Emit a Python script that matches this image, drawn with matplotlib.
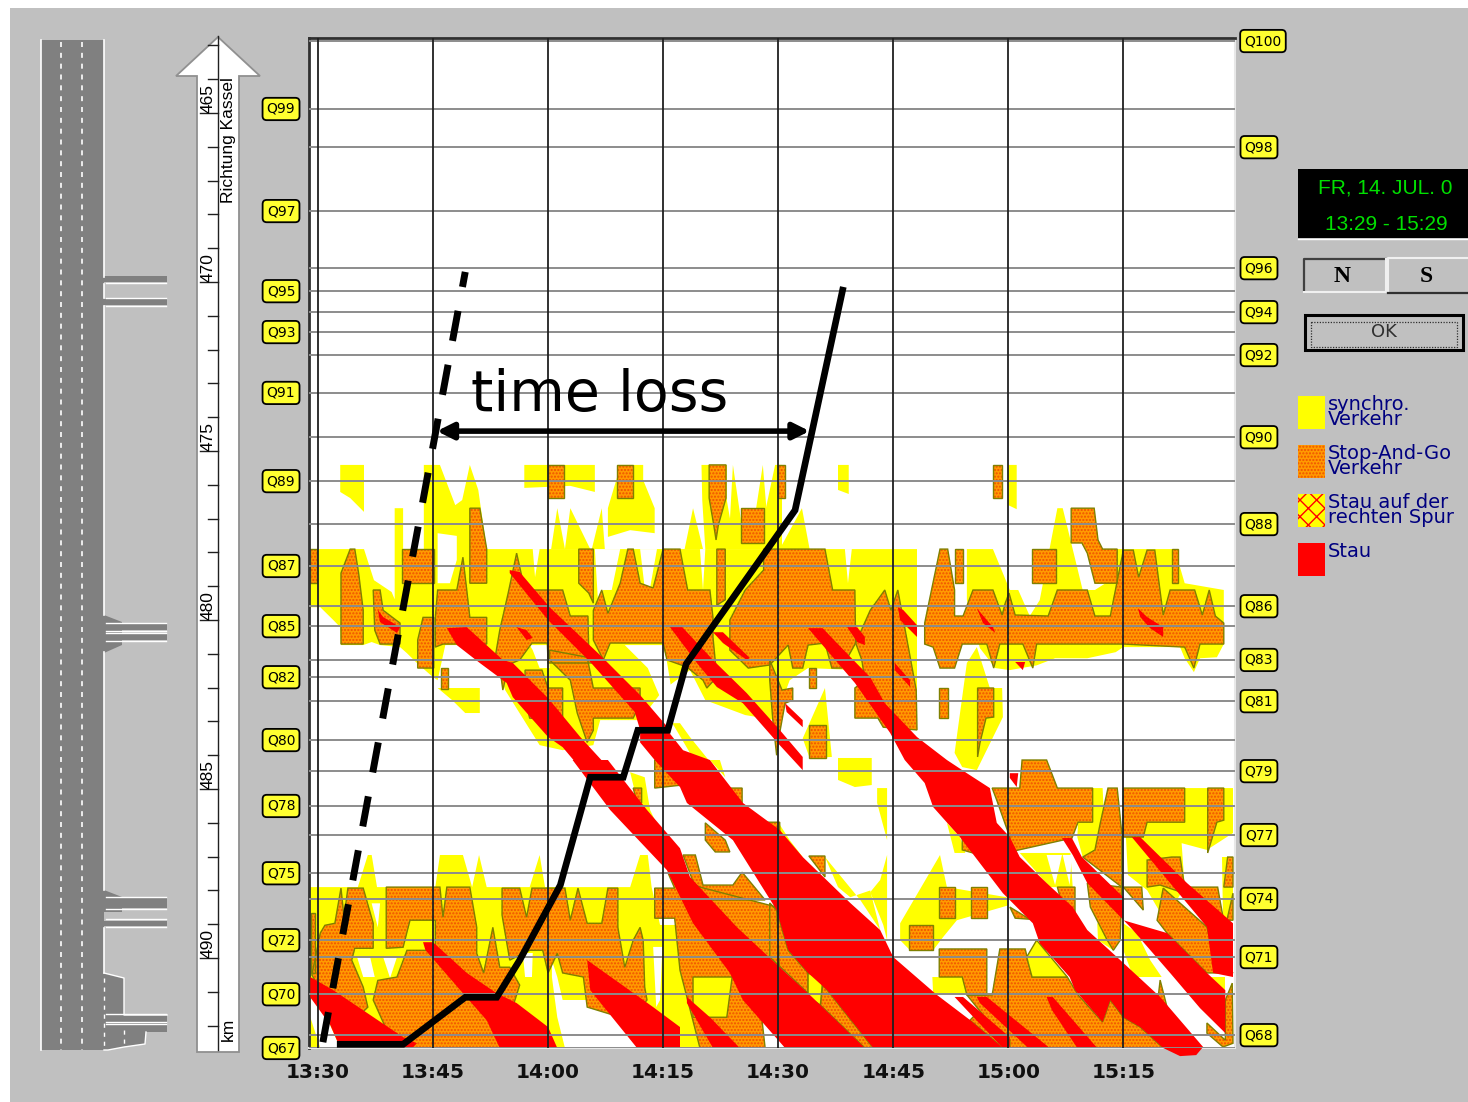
import matplotlib
matplotlib.use("Agg")
import matplotlib.pyplot as plt
from matplotlib.patches import Polygon, Rectangle

W, H = 1468, 1102

# minutes after 13:30, km
time_ticks = [0, 15, 30, 45, 60, 75, 90, 105]
time_labels = ['13:30', '13:45', '14:00', '14:15', '14:30', '14:45', '15:00', '15:15']
t_min, t_max = -1.17, 119.56
km_top, km_bottom = 462.78, 492.66

# detector positions
q_left = ['Q99', 'Q97', 'Q95', 'Q93', 'Q91', 'Q89', 'Q87', 'Q85', 'Q82', 'Q80', 'Q78', 'Q75', 'Q72', 'Q70', 'Q67']
q_left_km = [464.88, 467.90, 470.27, 471.48, 473.28, 475.89, 478.40, 480.18, 481.69, 483.55, 485.50, 487.49, 489.47, 491.07, 492.66]
q_right = ['Q100', 'Q98', 'Q96', 'Q94', 'Q92', 'Q90', 'Q88', 'Q86', 'Q83', 'Q81', 'Q79', 'Q77', 'Q74', 'Q71', 'Q68']
q_right_km = [462.87, 466.01, 469.59, 470.89, 472.16, 474.59, 477.16, 479.59, 481.18, 482.40, 484.47, 486.36, 488.25, 489.97, 492.28]

km_ticks = list(range(463, 493))
km_labels = [465, 470, 475, 480, 485, 490]

# synchronised traffic
synchro = [
    [(2.9,475.41),(6.0,475.41),(6.0,476.80),(4.2,476.39),(2.9,476.21)],
    [(-1.2,477.9),(6.0,477.9),(7.3,478.82),(9.6,479.17),(10.7,479.76),(10.0,479.41),(10.0,476.69),(11.1,476.69),(11.1,477.9),
     (13.8,477.9),(13.8,475.41),(15.9,475.41),(17.9,476.6),(18.8,476.45),(19.8,475.41),(20.9,476.15),(22.0,477.9),(78.1,477.9),
     (78.1,482.37),(70.3,482.37),(70.3,481.48),(63.9,481.42),(61.5,481.78),(59.6,482.96),(55.7,482.81),(50.5,482.37),(48.5,481.48),
     (45.0,482.07),(42.0,482.96),(36.8,482.96),(35.9,483.7),(31.9,483.85),(28.9,483.7),(24.4,482.07),(23.1,481.18),(21.1,480.74),
     (16.6,480.74),(15.6,481.78),(15.0,481.69),(12.9,481.27),(11.6,480.98),(10.7,480.8),(8.1,480.74),(7.0,480.65),(5.9,480.74),
     (3.0,480.74),(2.9,480.21),(2.0,480.0),(0.3,479.62),(-1.2,479.62)],
    [(31.2,476.69),(30.4,477.9),(32.2,477.9)],
    [(32.9,476.69),(32.2,477.9),(35.5,477.9)],
    [(37.0,476.69),(35.7,477.9),(37.4,477.9)],
    [(48.9,476.69),(47.8,477.9),(50.2,477.9)],
    [(54.1,475.41),(53.5,477.9),(55.7,477.9)],
    [(58.0,475.41),(56.3,477.9),(58.9,477.9)],
    [(63.1,476.69),(60.2,477.9),(64.1,477.9)],
    [(26.9,475.41),(36.1,475.41),(36.1,476.21),(32.9,476.03),(26.9,476.09)],
    [(39.0,475.41),(42.4,475.41),(42.4,475.86),(43.9,476.69),(43.9,477.43),(40.7,477.34),(37.8,477.54),(37.8,476.69),(39.0,475.77)],
    [(50.0,475.41),(53.3,475.41),(53.3,476.45),(54.4,477.9),(50.5,477.9),(50.1,476.45)],
    [(55.2,476.69),(58.4,476.69),(59.6,475.41),(60.5,475.41),(60.5,477.9),(55.2,477.9)],
    [(15.6,482.01),(21.1,482.01),(21.1,482.75),(19.2,482.75),(17.5,482.37)],
    [(46.2,483.05),(47.2,483.05),(48.5,483.46),(52.0,484.44),(49.8,484.44),(47.9,483.7)],
    [(85.9,480.8),(84.6,481.27),(83.0,483.93),(84.0,484.35),(85.9,484.44),(89.3,482.87),(89.2,482.01),(87.6,482.01)],
    [(66.1,482.01),(67.0,484.05),(64.1,484.08),(63.2,483.5)],
    [(67.8,484.08),(72.2,484.08),(72.2,484.88),(70.0,484.94),(67.8,484.73)],
    [(72.9,484.97),(74.2,484.97),(74.2,486.51),(72.9,485.41)],
    [(74.2,486.95),(74.2,489.47),(73.7,489.02),(72.0,488.05),(73.3,487.69)],
    [(66.1,487.01),(67.8,487.9),(69.4,488.2),(72.0,488.0),(73.3,489.17),(70.7,488.28)],
    [(75.9,488.97),(81.1,486.95),(82.0,487.9),(89.8,488.2),(90.0,488.44),(83.3,488.88),(81.5,489.38),(80.2,489.77),(77.2,489.77),(75.9,489.47)],
    [(80.1,490.56),(84.0,490.56),(84.6,491.04),(80.2,491.04)],
    [(91.5,486.89),(98.1,486.89),(98.4,487.9),(95.4,487.9)],
    [(105.0,484.97),(119.3,484.97),(119.3,486.3),(115.9,486.8),(112.6,486.6),(113.0,487.9),(110.4,488.88),(108.1,487.99),(105.6,487.54)],
    [(101.0,484.97),(102.3,484.97),(102.6,486.42),(101.3,486.89),(99.7,487.01),(99.0,486.42),(99.1,485.98),(101.0,485.98)],
    [(117.9,487.01),(119.3,487.01),(119.3,488.88),(118.0,488.88)],
    [(101.6,488.97),(102.9,488.97),(103.7,489.77),(101.7,489.47)],
    [(105.0,488.97),(106.8,489.26),(108.5,490.06),(110.0,490.56),(106.3,490.56),(105.0,489.77)],
    [(115.9,490.56),(118.3,490.56),(118.3,490.95)],
    [(58.9,485.98),(60.0,485.98),(61.5,486.51),(63.2,487.01),(61.5,487.01)],
    [(90.0,475.41),(91.1,475.41),(91.1,476.72),(90.0,476.6)],
    [(67.8,475.41),(69.2,475.41),(69.2,476.27),(67.8,476.15)],
    [(82.0,486.0),(83.7,486.42),(84.4,486.89),(83.0,486.89)],
    [(40.7,484.5),(42.6,484.65),(43.3,485.62),(45.5,486.66),(44.5,486.51),(41.9,485.62)],
    [(51.1,484.14),(52.4,484.14),(53.1,484.65)],
    [(84.6,479.41),(84.6,477.9),(88.0,477.9),(90.2,479.11),(91.3,479.11),(92.8,479.88),(94.1,479.41),(96.4,476.69),(97.1,476.69),
     (99.7,479.11),(101.3,479.11),(103.3,478.82),(104.2,477.9),(111.7,477.9),(113.0,478.91),(118.1,479.11),(118.1,480.71),
     (117.2,481.1),(115.0,481.13),(114.2,481.54),(113.0,481.13),(112.4,480.8),(105.0,480.8),(104.0,480.95),(100.3,481.13),
     (96.1,481.13),(93.7,481.34),(90.2,481.48),(88.3,481.42),(86.3,480.83)],
    [(-1.2,487.9),(5.2,487.9),(6.5,486.95),(7.0,486.95),(7.7,487.9),(15.3,487.9),(15.9,486.95),(18.9,486.95),(20.1,487.9),
     (21.0,486.95),(22.0,487.9),(27.6,487.9),(28.9,486.95),(29.6,487.9),(40.7,487.9),(42.0,486.95),(43.0,486.95),(43.5,487.9),
     (44.6,489.02),(47.2,489.02),(50.5,490.06),(54.4,490.66),(55.7,491.54),(57.6,492.66),(-1.2,492.66)],
]

# gaps left free inside the yellow areas
free_flow = [
    [(15.6,477.43),(18.1,477.51),(18.1,478.22),(17.2,478.91),(15.6,478.91)],
    [(28.0,477.9),(28.9,477.9),(28.3,478.73)],
    [(36.1,477.9),(39.4,477.9),(38.3,479.11),(37.2,479.11),(36.5,479.41)],
    [(42.0,477.9),(44.2,477.9),(43.3,479.05),(42.6,479.05)],
    [(49.8,477.9),(50.5,477.9),(50.2,479.11)],
    [(68.7,477.9),(69.6,477.9),(69.1,478.91)],
    [(40.0,480.74),(45.0,480.74),(45.5,481.24),(46.1,482.07),(44.6,482.28),(43.0,481.42)],
    [(27.6,480.74),(30.0,480.74),(30.2,481.42),(28.9,481.42),(28.0,480.89)],
    [(30.5,490.06),(31.2,490.56),(31.9,491.24),(35.9,491.24),(39.4,491.63),(41.1,492.04),(42.9,492.66),(32.2,492.66),(31.2,491.75),(30.5,490.56)],
    [(5.1,489.97),(6.8,489.97),(7.4,490.56),(5.9,490.56)],
    [(8.5,489.97),(10.3,489.97),(9.4,490.59)],
    [(7.0,488.38),(8.1,488.38),(7.8,489.09)],
    [(26.7,489.85),(28.0,489.85),(27.9,490.56),(27.0,490.56)],
    [(43.7,489.67),(44.9,489.67),(44.6,491.24),(44.1,491.45)],
    [(-1.0,491.16),(0.9,491.63),(2.9,492.66),(0.3,492.66),(-1.0,491.75)],
    [(95.0,486.95),(97.0,486.95),(96.1,487.84)],
    [(97.1,486.95),(98.3,486.95),(98.0,487.84)],
]

# stop and go
stop_go = [
    [(-1.0,477.9),(-0.1,477.9),(-0.1,478.91),(-1.0,478.91)],
    [(3.0,478.61),(4.2,477.9),(4.8,477.9),(5.3,478.61),(5.9,479.71),(5.9,480.71),(3.0,480.71)],
    [(7.2,479.11),(8.1,479.11),(8.5,479.71),(10.7,480.09),(10.7,480.71),(8.1,480.71),(7.4,480.3)],
    [(11.0,477.9),(15.1,477.9),(15.1,478.91),(11.0,478.91)],
    [(13.7,479.92),(15.1,479.92),(15.1,481.42),(13.0,481.42),(13.0,480.59)],
    [(15.6,479.11),(18.1,479.11),(18.9,478.14),(19.4,479.11),(19.8,479.92),(22.0,479.92),(22.0,480.71),(16.3,480.71),(15.3,480.8),(15.3,479.92)],
    [(19.8,476.69),(21.1,476.69),(22.0,477.9),(22.0,478.91),(19.8,478.91)],
    [(30.0,475.41),(32.1,475.41),(32.1,476.39),(30.0,476.39)],
    [(39.0,475.41),(41.1,475.41),(41.1,476.39),(39.0,476.39)],
    [(16.0,481.42),(17.0,481.42),(17.0,482.04),(16.0,482.04)],
    [(23.1,481.1),(23.7,480.3),(24.8,479.2),(25.9,478.02),(26.6,478.73),(27.6,479.11),(31.9,479.11),(32.9,479.88),(35.2,479.88),
     (35.3,480.89),(36.4,481.27),(33.2,481.27),(30.0,481.27),(29.9,480.68),(27.9,480.68),(26.3,481.18),(24.1,481.39),(23.3,481.18)],
    [(30.2,480.89),(35.1,481.1),(35.9,482.01),(42.0,482.01),(42.0,482.46),(41.1,482.9),(35.9,482.9),(35.9,483.26),(35.1,483.62),(33.8,482.75),(32.9,481.78),(30.2,481.18)],
    [(27.0,481.48),(29.2,481.48),(30.0,482.01),(31.9,482.01),(31.9,482.96),(30.6,482.96),(27.6,482.9),(27.0,482.35)],
    [(23.7,481.39),(24.8,481.39),(24.1,482.07)],
    [(35.9,479.71),(37.0,479.11),(37.8,479.8),(39.4,478.91),(40.4,477.9),(41.1,477.9),(42.0,478.91),(43.7,479.05),(45.0,477.9),(47.2,477.9),
     (48.2,479.11),(51.1,479.11),(51.5,479.92),(51.5,480.5),(52.0,481.69),(50.7,482.01),(50.2,481.78),(48.1,481.39),(45.5,481.18),
     (45.0,480.68),(38.1,480.68),(37.2,481.18),(35.9,480.59)],
    [(34.0,477.9),(35.9,477.9),(35.9,479.5),(35.3,479.2),(34.0,478.91)],
    [(51.0,475.41),(53.2,475.41),(53.2,476.39),(52.2,477.19),(51.9,477.63),(51.6,477.19),(51.0,476.39)],
    [(55.1,476.69),(58.1,476.69),(58.1,477.72),(55.1,477.72)],
    [(52.0,477.9),(53.1,477.9),(53.1,479.4),(52.0,479.56)],
    [(60.0,475.41),(60.9,475.41),(60.9,476.39),(60.0,476.39)],
    [(53.7,480.0),(55.7,479.11),(58.1,478.52),(58.1,477.9),(66.1,477.9),(67.1,479.11),(70.0,479.11),(70.1,480.68),(68.3,481.42),(67.0,481.42),
     (66.1,480.68),(63.9,480.74),(63.2,481.42),(61.9,481.42),(61.3,480.74),(58.9,481.33),(56.1,481.42),(53.7,480.89)],
    [(70.1,480.68),(72.0,479.71),(73.9,479.11),(74.7,479.71),(75.6,479.11),(76.8,480.59),(78.0,482.07),(78.1,483.25),(73.7,483.17),(73.0,482.9),
     (70.0,482.9),(70.0,482.01),(71.3,481.78),(70.9,481.18)],
    [(58.9,481.18),(60.5,482.07),(61.9,482.01),(61.9,482.37),(60.9,482.46),(60.2,483.34),(59.8,484.0),(59.3,482.96),(58.9,481.78)],
    [(79.1,480.09),(79.8,479.32),(81.1,477.9),(82.1,477.9),(83.0,479.11),(83.0,479.88),(84.1,479.88),(85.4,479.11),(88.0,479.11),(89.2,479.85),
     (89.6,479.5),(90.1,479.2),(90.9,479.85),(95.2,479.88),(96.4,479.11),(100.3,479.11),(101.3,479.88),(103.3,479.88),(105.0,477.93),(106.3,477.93),
     (107.0,478.73),(108.1,477.93),(109.1,477.93),(110.2,479.85),(111.1,479.11),(114.3,479.11),(115.3,479.85),(116.2,479.11),(117.0,479.88),(118.1,480.09),
     (118.1,480.71),(115.0,480.71),(114.2,481.42),(113.0,480.8),(105.0,480.71),(93.7,480.71),(93.2,481.42),(91.9,480.71),(88.9,480.71),(88.1,481.42),
     (87.2,480.71),(84.0,480.71),(83.0,481.42),(81.1,481.42),(80.2,480.8),(79.1,480.71)],
    [(83.0,477.9),(84.1,477.9),(84.1,478.91),(83.0,478.91)],
    [(93.1,477.9),(96.2,477.9),(96.2,478.91),(93.1,478.91)],
    [(88.0,475.41),(89.2,475.41),(89.2,476.39),(88.0,476.39)],
    [(98.2,476.69),(101.2,476.69),(101.7,477.63),(102.3,477.9),(104.2,477.9),(104.2,478.91),(101.3,478.91),(100.3,478.02),(99.6,477.72),(98.2,477.72)],
    [(111.3,477.9),(112.1,477.9),(112.1,478.91),(111.3,478.91)],
    [(86.0,482.01),(88.1,482.01),(88.1,482.87),(87.1,482.9),(86.3,483.64),(86.0,484.05)],
    [(81.0,482.01),(82.1,482.01),(82.1,482.9),(81.0,482.9)],
    [(64.0,481.42),(64.9,481.42),(64.9,482.01),(64.0,482.01)],
    [(64.0,483.11),(66.2,483.11),(66.2,484.08),(64.0,484.08)],
    # lower band
    [(-0.9,488.67),(-0.4,488.67),(-0.4,490.44),(-0.9,490.44)],
    [(0.3,489.26),(0.9,489.03),(2.2,488.97),(3.0,487.93),(3.4,488.79),(3.9,487.93),(5.9,487.93),(7.2,488.97),(7.2,489.71),(4.8,489.71),(4.4,490.06),
     (5.9,490.86),(6.5,491.45),(3.5,492.13),(-0.8,490.5),(-0.4,490.06)],
    [(8.9,487.9),(15.9,487.9),(16.3,488.79),(16.8,487.9),(19.8,487.9),(20.7,489.09),(20.7,489.86),(21.6,490.44),(22.8,489.09),(23.7,490.27),(25.0,490.27),
     (26.3,490.8),(23.7,492.66),(13.3,492.66),(10.0,492.66),(7.2,491.24),(7.8,490.66),(10.3,490.56),(11.6,489.77),(15.3,489.77),(15.3,488.88),(12.0,488.88),(11.1,489.68),(8.9,489.71)],
    [(24.0,487.93),(26.3,487.93),(27.2,488.79),(27.9,487.93),(32.2,487.93),(32.9,488.88),(33.9,487.93),(35.1,488.97),(37.0,488.97),(37.8,487.93),(39.1,487.93),
     (39.1,489.09),(40.0,490.27),(41.1,489.47),(42.0,489.09),(42.4,489.47),(42.6,490.86),(42.9,491.24),(40.7,491.84),(35.1,491.45),(34.6,490.56),(31.9,490.44),
     (31.2,489.86),(30.0,490.44),(29.3,489.77),(27.6,489.77),(25.0,490.06),(24.0,488.73)],
    [(43.9,487.93),(46.5,487.93),(45.6,487.46),(49.8,487.9),(59.8,488.49),(60.2,490.5),(57.6,491.24),(58.3,492.66),(49.8,492.66),(47.2,490.36),(46.5,488.82),(43.9,488.82)],
    [(43.9,484.14),(45.6,484.14),(47.5,484.88),(43.9,484.97)],
    [(41.1,484.97),(42.2,484.97),(42.2,485.41),(41.6,485.41)],
    [(50.5,486.0),(53.1,486.51),(53.7,486.86),(51.8,486.86),(50.5,486.51)],
    [(53.5,484.97),(55.3,484.97),(55.3,485.41)],
    [(58.0,485.98),(60.2,485.98),(60.2,486.51)],
    [(47.6,486.95),(49.2,486.95),(50.2,487.84),(54.1,487.84),(55.3,487.46),(58.3,488.28),(49.8,488.28)],
    [(64.0,486.98),(66.1,486.98),(66.1,487.6)],
    [(65.8,490.8),(66.4,490.95),(72.4,492.66),(71.3,492.66),(65.5,491.39)],
    [(58.9,488.37),(59.8,488.58),(61.3,489.77),(63.9,490.44),(63.9,491.04),(58.9,489.97)],
    [(81.0,489.73),(87.2,489.73),(87.2,491.09),(84.6,491.09),(84.0,490.56),(81.0,490.56)],
    [(87.9,491.09),(88.9,489.73),(92.2,489.73),(93.1,490.56),(97.7,490.56),(99.1,491.09),(102.3,491.89),(103.3,491.24),(105.0,491.75),(107.2,492.04),(110.2,492.66),(90.2,492.66),(84.6,491.09)],
    [(87.9,484.97),(91.5,484.97),(91.8,484.14),(95.0,484.14),(96.4,484.97),(101.0,484.97),(101.0,485.98),(99.1,485.98),(98.3,486.45),(90.2,486.86),(90.2,486.42),(88.5,485.33)],
    [(103.0,484.97),(104.2,484.97),(104.8,486.3),(104.8,487.9),(99.7,487.01),(101.3,486.8),(102.0,486.0)],
    [(105.0,484.97),(113.0,484.97),(113.0,485.98),(108.1,485.98),(107.6,486.42),(105.0,486.42)],
    [(116.0,484.97),(118.1,484.97),(118.1,485.92),(117.2,485.98),(116.0,486.89)],
    [(100.3,487.78),(104.8,487.9),(104.6,489.47),(103.7,489.77),(102.9,489.47),(100.7,488.49)],
    [(96.4,487.9),(98.7,487.9),(98.7,488.79),(97.1,488.49)],
    [(105.0,487.9),(107.4,487.9),(107.6,488.58)],
    [(108.1,487.1),(111.3,487.01),(112.4,487.01),(113.0,487.9),(117.3,487.9),(118.0,488.79),(116.7,488.88),(113.7,488.14),(109.8,487.84),(108.1,487.9)],
    [(109.4,488.88),(110.2,487.93),(115.9,489.08),(116.7,489.85),(119.3,490.44),(115.9,490.44),(110.7,489.26)],
    [(118.6,487.01),(119.3,487.01),(119.3,487.9),(118.1,487.9)],
    [(119.3,488.08),(118.5,488.88),(119.3,488.88)],
    [(119.2,490.74),(119.3,492.52),(118.0,492.63),(115.9,492.22),(115.9,491.92),(118.3,492.43),(118.3,491.24)],
    [(109.8,490.65),(110.7,491.45),(109.5,491.24)],
    [(81.0,487.9),(83.1,487.9),(83.1,488.82),(81.0,488.82)],
    [(85.1,487.9),(87.2,487.9),(87.2,488.82),(85.1,488.82)],
    [(77.1,489.02),(80.2,489.02),(80.2,489.76),(77.1,489.76)],
    [(85.0,491.84),(85.9,491.63),(90.2,492.43),(90.2,492.66),(89.3,492.66)],
    [(84.0,486.45),(85.4,486.89),(84.0,486.8)],
    [(90.2,488.49),(92.8,488.85),(90.9,488.82)],
    [(93.7,489.08),(94.4,489.71),(95.4,489.77)],
]

# yellow seen on top of orange
synchro_late = [
    [(92.4,489.97),(93.7,489.47),(97.7,490.56),(93.1,490.56)],
    [(63.9,490.44),(65.8,490.65),(65.5,491.39),(63.9,491.15)],
    [(48.9,490.56),(54.0,490.56),(53.3,491.75),(48.9,491.75)],
]

# jam
stau = [
    [(-1.0,490.56),(2.0,490.95),(11.1,492.34),(12.9,492.52),(12.3,492.66),(2.9,492.66),(1.6,491.98),(-1.0,491.16)],
    [(13.7,489.53),(15.0,489.53),(19.4,490.44),(23.3,491.04),(25.9,491.33),(30.0,492.04),(31.2,492.66),(23.7,492.66),(22.0,491.84),(18.9,491.04),(14.0,489.76)],
    [(16.8,480.24),(19.4,480.21),(24.1,481.18),(25.4,481.27),(30.0,482.31),(34.2,483.46),(37.8,484.35),(39.6,484.73),(35.5,484.73),(31.9,483.76),(30.0,483.46),(25.4,482.28),(24.6,481.86),(21.1,481.27),(18.1,480.74)],
    [(25.0,478.52),(26.3,478.58),(30.2,479.62),(36.8,481.04),(42.0,482.22),(45.9,483.25),(42.0,483.25),(41.3,482.72),(35.5,481.24),(30.0,480.0),(25.0,478.61)],
    [(33.2,484.14),(37.8,484.14),(42.9,485.62),(47.2,486.75),(48.5,487.6),(54.6,489.08),(60.2,490.27),(63.9,491.04),(71.3,492.66),(60.9,492.66),(55.4,491.24),(53.7,490.44),(48.9,488.97),(45.5,487.4),(38.1,485.62)],
    [(42.0,483.25),(45.5,483.25),(47.6,483.85),(51.1,484.14),(55.4,485.41),(60.2,486.21),(63.2,487.01),(69.4,488.37),(73.3,489.17),(75.0,489.97),(80.7,491.09),(85.0,491.83),(89.3,492.66),
     (72.4,492.66),(66.4,490.95),(63.9,490.44),(61.3,489.76),(59.8,488.58),(54.1,486.51),(48.1,485.41),(47.2,484.94),(43.9,484.14),(42.0,483.62)],
    [(35.1,490.06),(43.7,491.45),(47.2,492.04),(47.2,492.66),(41.6,492.66),(35.5,490.95)],
    [(48.1,491.15),(51.1,491.75),(55.0,492.66),(51.5,492.66),(48.1,491.33)],
    [(7.8,479.7),(8.5,479.91),(10.7,480.21),(10.3,480.38),(8.1,480.06)],
    [(25.9,480.21),(27.2,480.3),(28.0,480.53),(27.2,480.59)],
    [(45.9,480.21),(47.5,480.21),(51.5,481.18),(55.9,482.16),(60.2,483.25),(63.2,484.05),(63.2,484.44),(60.2,483.7),(55.4,482.46),(52.0,481.98),(49.4,481.27)],
    [(51.5,480.36),(52.8,480.36),(56.3,481.12),(55.9,481.18),(52.8,480.68)],
    [(60.9,482.46),(63.2,482.96),(63.2,483.17),(61.1,482.72)],
    [(63.9,480.24),(65.8,480.24),(69.4,481.09),(72.0,481.69),(73.9,482.46),(78.1,483.46),(82.0,484.14),(84.6,484.53),(87.6,484.97),(88.5,486.0),(90.2,486.42),(91.5,487.01),
     (95.0,487.78),(98.4,488.49),(100.3,489.17),(104.6,490.06),(109.8,491.15),(115.4,492.63),(114.5,492.87),(112.4,492.9),(110.2,492.66),(107.2,492.04),(105.0,491.75),(103.3,491.24),
     (102.3,491.89),(98.7,490.95),(98.0,490.56),(94.1,489.56),(93.2,488.97),(89.3,488.08),(86.7,487.31),(83.7,486.42),(80.2,485.53),(79.1,484.82),(76.5,484.14),(74.6,483.34),(70.0,481.86)],
    [(69.0,480.21),(70.3,480.21),(71.3,480.5),(71.3,480.74),(70.3,480.65)],
    [(75.6,479.62),(76.3,479.7),(78.1,480.15),(78.1,480.5),(75.9,480.0)],
    [(75.2,481.27),(77.2,481.78),(77.2,481.98),(75.2,481.48)],
    [(85.9,479.65),(88.0,480.21),(88.3,480.38),(86.7,480.09)],
    [(106.9,479.65),(108.1,479.91),(110.2,480.21),(110.2,480.5),(108.5,480.24),(107.2,479.91)],
    [(90.9,481.24),(92.2,481.24),(91.9,481.48)],
    [(90.2,484.53),(91.3,484.53),(91.1,484.94),(90.2,484.67)],
    [(97.0,486.45),(98.3,486.45),(99.6,487.01),(105.0,488.2),(105.0,488.88),(110.7,489.26),(115.9,490.44),(118.3,490.95),(118.3,492.22),(115.0,491.48),(111.1,490.44),(105.9,489.08),(100.3,487.78),(98.4,486.95)],
    [(106.1,486.42),(107.2,486.42),(113.3,487.78),(119.3,488.97),(119.3,490.56),(116.7,490.44),(115.9,489.08),(111.1,487.78)],
    [(83.0,491.15),(84.1,491.15),(90.2,492.34),(90.2,492.66),(89.3,492.66),(84.6,491.54)],
    [(85.9,491.15),(87.2,491.15),(95.4,492.66),(92.6,492.66),(86.3,491.33)],
    [(95.0,491.15),(95.8,491.15),(101.6,492.66),(99.0,492.66),(95.7,491.54)],
]

# the two drawn trajectories
free_t = [0.5, 19.2]
free_km = [492.66, 469.70]
jam_t = [2.9, 11.1, 19.2, 23.3, 26.3, 31.6, 35.5, 39.8, 41.7, 45.6, 48.0, 62.2, 68.4]
jam_km = [492.55, 492.55, 491.16, 491.16, 490.06, 487.84, 484.65, 484.65, 483.26, 483.26, 481.3, 476.75, 470.24]
loss_t = [15.5, 64.1]
loss_km = 474.41

legend_labels = ['synchro.\nVerkehr', 'Stop-And-Go\nVerkehr', 'Stau auf der\nrechten Spur', 'Stau']

BG = '#c0c0c0'
YELLOW = '#ffff00'
ORANGE = '#ff9a00'
DITHER = '#f05000'
OLIVE = '#808000'
RED = '#ff0000'
ROAD = '#808080'


def px_axes(left, top, right, bottom, **kw):
    return fig.add_axes([left / W, 1 - bottom / H, (right - left) / W, (bottom - top) / H], **kw)


def fill_all(ax, polys, **kw):
    for p in polys:
        ax.add_patch(Polygon(p, closed=True, **kw))


plt.rcParams['hatch.linewidth'] = 1.0
fig = plt.figure(figsize=(W / 100, H / 100), dpi=100, facecolor=BG)

# window chrome, road sketch and side panel, in pixels
ui = px_axes(0, 0, W, H)
ui.set_xlim(0, W)
ui.set_ylim(H, 0)
ui.axis('off')
ui.add_patch(Rectangle((0, 0), W, 8, fc='white', lw=0))
ui.add_patch(Rectangle((0, 0), 10, H, fc='white', lw=0))

# road
ui.add_patch(Rectangle((41, 40), 63, 1010, fc=ROAD, lw=0))
ui.plot([40.5, 40.5], [40, 1050], color='white', lw=1.2)
for x in (61, 82):
    ui.plot([x, x], [42, 1050], color='white', lw=1.2, dashes=(3, 3.5))
ui.plot([104, 104], [40, 277], color='white', lw=1.2)
ui.plot([104, 104], [284, 298], color='white', lw=1.2)
ui.plot([104, 104], [306, 615], color='white', lw=1.2)
ui.plot([104, 104], [652, 890], color='white', lw=1.2)
ui.plot([104, 104], [928, 973], color='white', lw=1.2)
for top, bot in [(276, 282), (299, 305), (624, 630), (634, 640), (898, 903), (903, 908), (921, 926), (1015, 1021), (1026, 1032)]:
    ui.add_patch(Rectangle((104, top), 63, bot - top, fc=ROAD, lw=0))
for y in [283, 298, 305.5, 623, 631, 633, 641, 897, 909, 919, 927, 1014, 1022, 1024]:
    ui.plot([106, 166], [y, y], color='white', lw=1)
ui.add_patch(Polygon([(104, 615), (122, 622), (122, 645), (104, 653)], fc=ROAD, lw=0))
ui.add_patch(Polygon([(104, 890), (122, 897), (122, 912), (104, 912)], fc=ROAD, lw=0))
ui.add_patch(Polygon([(104, 973), (124, 978), (124, 1015), (167, 1015), (167, 1032), (146, 1032), (145, 1044), (124, 1047), (108, 1050), (104, 1050)], fc=ROAD, lw=0))
ui.plot([104, 124, 124, 167], [973, 978, 1015, 1015], color='white', lw=1)
ui.plot([146, 145, 124, 108, 104], [1032, 1044, 1047, 1050, 1050], color='white', lw=1)
ui.plot([104, 104], [978, 1050], color='white', lw=1, dashes=(3, 3.5))
ui.plot([124, 124], [1030, 1047], color='white', lw=1, dashes=(3, 3.5))

# direction arrow
ui.add_patch(Polygon([(197, 1052), (197, 76), (176, 76), (218, 37), (260, 76), (239, 76), (239, 1052)],
                     closed=True, fc='white', ec='#909090', lw=1.3))

# clock
ui.add_patch(Rectangle((1298, 169), 170, 69, fc='black', lw=0))
ui.plot([1298, 1468], [238.5, 238.5], color='white', lw=1)
ui.text(1385, 188, 'FR, 14. JUL. 0', color='#00e000', ha='center', va='center', fontsize=15, family='Liberation Sans')
ui.text(1386, 224, '13:29 - 15:29', color='#00e000', ha='center', va='center', fontsize=15, family='Liberation Sans')

# buttons
ui.plot([1304, 1304, 1385], [290, 259, 259], color='#404040', lw=1.6)
ui.plot([1304, 1386, 1386], [292, 292, 259], color='#f0f0f0', lw=1.5)
ui.plot([1388, 1388, 1468], [292, 258, 258], color='#f0f0f0', lw=1.5)
ui.plot([1388, 1468], [293, 293], color='#303030', lw=1.6)
ui.text(1342, 276, 'N', ha='center', va='center', family='Liberation Serif', weight='bold', fontsize=17)
ui.text(1426, 276, 'S', ha='center', va='center', family='Liberation Serif', weight='bold', fontsize=17)
ui.add_patch(Rectangle((1305, 315), 158, 35, fc=BG, ec='black', lw=2.2))
ui.add_patch(Rectangle((1311, 322), 146, 25, fc='none', ec='#303030', lw=0.9, ls=(0, (1, 1.2))))
ui.text(1384, 332, 'OK', ha='center', va='center', color='#303030', fontsize=13)

# legend
swatch_y = [396, 445, 494, 543]
ui.add_patch(Rectangle((1298, swatch_y[0]), 27, 33, fc=YELLOW, lw=0))
ui.add_patch(Rectangle((1298, swatch_y[1]), 27, 33, fc=ORANGE, ec=DITHER, hatch='.....', lw=0))
ui.add_patch(Rectangle((1298, swatch_y[2]), 27, 33, fc=YELLOW, ec=RED, hatch='xx', lw=0))
ui.add_patch(Rectangle((1298, swatch_y[3]), 27, 33, fc=RED, lw=0))
for y, label in zip(swatch_y, legend_labels):
    ui.text(1328, y - 1, label, color='#000080', fontsize=14, va='top', ha='left', linespacing=0.72)

# km scale, shares the y range of the chart
sc = px_axes(197, 38, 240, 1048, zorder=2)
sc.set_xlim(197, 240)
sc.set_ylim(km_bottom, km_top)
sc.axis('off')
sc.plot([218, 218], [km_top - 0.05, km_bottom + 0.07], color='#202020', lw=1, clip_on=False)
for k in km_ticks:
    sc.plot([200 if k in km_labels else 208, 218], [k, k], color='#202020', lw=1)
for k in km_labels:
    sc.text(208, k, str(k), rotation=90, ha='center', va='bottom', family='Liberation Sans', fontsize=12.5)
sc.text(228, 463.95, 'Richtung Kassel', rotation=90, ha='center', va='top', family='Liberation Sans', fontsize=12.5)
sc.text(228, 492.45, 'km', rotation=90, ha='center', va='bottom', family='Liberation Sans', fontsize=12.5)

# time-space chart
ax = px_axes(309, 38, 1235, 1048, zorder=3)
ax.set_facecolor('white')
ax.set_xlim(t_min, t_max)
ax.set_ylim(km_bottom, km_top)

fill_all(ax, synchro, fc=YELLOW, lw=0, zorder=1)
fill_all(ax, free_flow, fc='white', lw=0, zorder=1.5)
fill_all(ax, stop_go, fc=ORANGE, ec=DITHER, hatch='.....', lw=0, zorder=2)
fill_all(ax, stop_go, fc='none', ec=OLIVE, lw=1, zorder=2.1)
fill_all(ax, synchro_late, fc=YELLOW, ec=OLIVE, lw=1, zorder=2.5)
fill_all(ax, stau, fc=RED, lw=0, zorder=3, clip_on=False)

ax.hlines(q_left_km + q_right_km, t_min, t_max, color='#8c8c8c', lw=1.4, zorder=4)
ax.vlines(time_ticks, km_top, km_bottom, color='#202020', lw=1.3, zorder=5)

ax.plot(free_t, free_km, color='black', lw=5, linestyle=(7.05, (4.4, 3.5)), dash_capstyle='butt', zorder=6)
ax.plot(jam_t, jam_km, color='black', lw=4.8, solid_joinstyle='miter', zorder=6)
ax.annotate('', xy=(loss_t[0], loss_km), xytext=(loss_t[1], loss_km),
            arrowprops=dict(arrowstyle='<|-|>', color='black', lw=4, mutation_scale=24, shrinkA=0, shrinkB=0), zorder=7)
ax.text(36.7, 473.37, 'time loss', fontsize=41, ha='center', va='center', zorder=7)

ax.set_xticks(time_ticks)
ax.set_xticklabels(time_labels, fontsize=14.5, weight='bold', color='#101010')
ax.tick_params(axis='x', length=0, pad=11)
ax.set_yticks([])
for side in ('left', 'top'):
    ax.spines[side].set_color('#303030')
    ax.spines[side].set_linewidth(2)
for side in ('right', 'bottom'):
    ax.spines[side].set_color('#e8e8e8')
    ax.spines[side].set_linewidth(1.5)

box = dict(boxstyle='round,pad=0.3', fc='#ffff30', ec='black', lw=1.3)
tr = ax.get_yaxis_transform()
for name, km in zip(q_left, q_left_km):
    ax.text(-0.0302, km, name, transform=tr, ha='center', va='center', fontsize=10, bbox=box, clip_on=False)
for name, km in zip(q_right, q_right_km):
    x = 1.0302 if name == 'Q100' else 1.0259
    ax.text(x, km, name, transform=tr, ha='center', va='center', fontsize=10, bbox=box, clip_on=False)

fig.savefig('out.png', dpi=100, facecolor=BG)
